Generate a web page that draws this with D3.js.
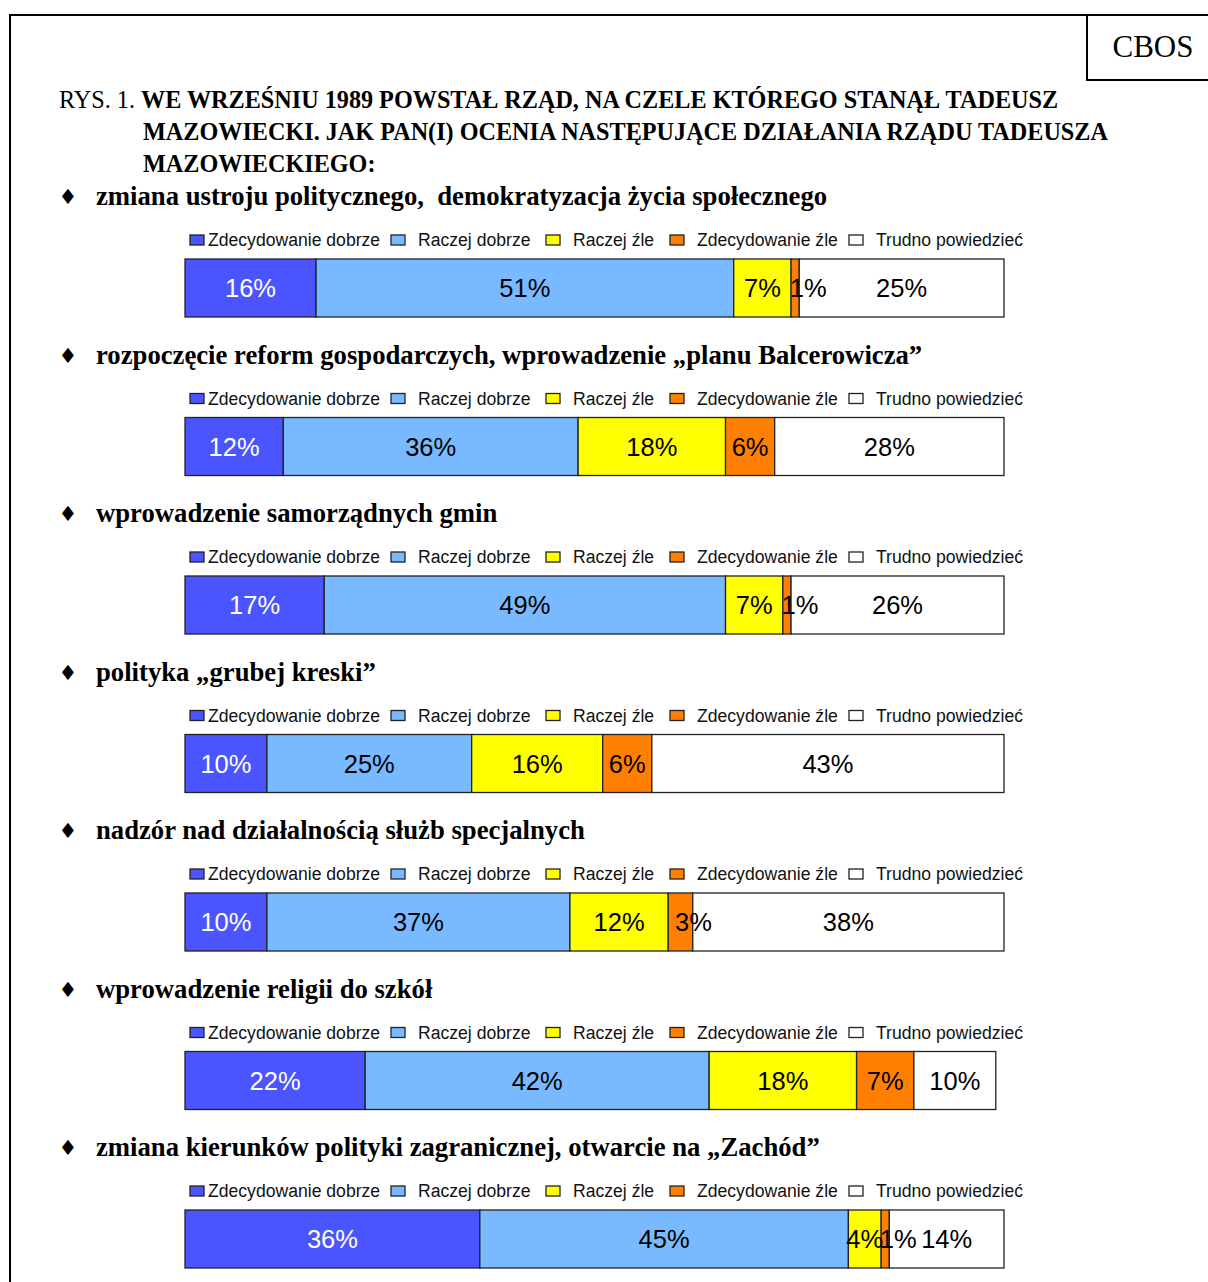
<!DOCTYPE html>
<html>
<head>
<meta charset="utf-8">
<script src="https://cdn.jsdelivr.net/npm/d3@7/dist/d3.min.js"></script>
<style>
  body { margin: 0; background: #fff; }
  text { white-space: pre; }
</style>
</head>
<body>
<script>
const WIDTH = 1208;
const HEIGHT = 1282;

// title lines
const TITLE_PREFIX = "RYS. 1. ";
const TITLE_LINES = ["WE WRZEŚNIU 1989 POWSTAŁ RZĄD, NA CZELE KTÓREGO STANĄŁ TADEUSZ",
                     "MAZOWIECKI. JAK PAN(I) OCENIA NASTĘPUJĄCE DZIAŁANIA RZĄDU TADEUSZA",
                     "MAZOWIECKIEGO:"];

// questions
const ITEMS = ["zmiana ustroju politycznego,  demokratyzacja życia społecznego",
               "rozpoczęcie reform gospodarczych, wprowadzenie „planu Balcerowicza”",
               "wprowadzenie samorządnych gmin",
               "polityka „grubej kreski”",
               "nadzór nad działalnością służb specjalnych",
               "wprowadzenie religii do szkół",
               "zmiana kierunków polityki zagranicznej, otwarcie na „Zachód”"];

// answer categories
const CATEGORIES = ["Zdecydowanie dobrze", "Raczej dobrze", "Raczej źle", "Zdecydowanie źle", "Trudno powiedzieć"];
const COLORS = ["#4a55ff", "#78b9ff", "#ffff00", "#ff8000", "#ffffff"];

// series values (%)
const ZDEC_DOBRZE   = [16, 12, 17, 10, 10, 22, 36];
const RACZEJ_DOBRZE = [51, 36, 49, 25, 37, 42, 45];
const RACZEJ_ZLE    = [7, 18, 7, 16, 12, 18, 4];
const ZDEC_ZLE      = [1, 6, 1, 6, 3, 7, 1];
const TRUDNO        = [25, 28, 26, 43, 38, 10, 14];

const SERIES = [ZDEC_DOBRZE, RACZEJ_DOBRZE, RACZEJ_ZLE, ZDEC_ZLE, TRUDNO];

const table = ITEMS.map((item, i) => {
  const row = {item: item};
  CATEGORIES.forEach((c, j) => row[c] = SERIES[j][i]);
  return row;
});

const svg = d3.select("body")
              .append("svg")
              .attr("width", WIDTH)
              .attr("height", HEIGHT);

// frame + CBOS box
svg.append("path")
   .attr("d", "M10," + HEIGHT + " V15 H" + (WIDTH + 5))
   .attr("fill", "none")
   .attr("stroke", "#000")
   .attr("stroke-width", 2);

svg.append("path")
   .attr("d", "M1087,15 V80 H" + (WIDTH + 5))
   .attr("fill", "none")
   .attr("stroke", "#000")
   .attr("stroke-width", 2);

svg.append("text")
   .attr("x", 1153)
   .attr("y", 57)
   .attr("text-anchor", "middle")
   .attr("font-family", "Liberation Serif, Times New Roman, serif")
   .attr("font-size", 31)
   .text("CBOS");

// title
const title = svg.append("g")
                 .attr("font-family", "Liberation Serif, Times New Roman, serif")
                 .attr("font-size", 24.2);

const firstLine = title.append("text")
                       .attr("x", 59)
                       .attr("y", 108);
firstLine.append("tspan").text(TITLE_PREFIX);
firstLine.append("tspan").attr("font-weight", "bold").text(TITLE_LINES[0]);

TITLE_LINES.slice(1).forEach((line, i) => {
  title.append("text")
       .attr("x", 143)
       .attr("y", 108 + (i + 1) * 32)
       .attr("font-weight", "bold")
       .text(line);
});

// scales
const xScale = d3.scaleLinear()
                 .domain([0, 100])
                 .range([185, 1004]);

const yScale = d3.scalePoint()
                 .domain(ITEMS)
                 .range([259, 1210]);

const colorScale = d3.scaleOrdinal()
                     .domain(CATEGORIES)
                     .range(COLORS);

const BAR_HEIGHT = 58;
const LEGEND_X = [190, 391, 546, 670, 849];

const stack = d3.stack().keys(CATEGORIES)(table);

const rows = svg.selectAll(".row")
                .data(ITEMS)
                .enter()
                .append("g")
                .attr("class", "row")
                .attr("transform", d => "translate(0," + yScale(d) + ")");

// bullet + heading
rows.append("text")
    .attr("x", 68)
    .attr("y", -55)
    .attr("text-anchor", "middle")
    .attr("font-family", "DejaVu Sans, sans-serif")
    .attr("font-size", 21)
    .text("♦");

rows.append("text")
    .attr("x", 96)
    .attr("y", -54)
    .attr("font-family", "Liberation Serif, Times New Roman, serif")
    .attr("font-weight", "bold")
    .attr("font-size", 26.7)
    .text(d => d);

// legend
const legend = rows.selectAll(".legend")
                   .data(CATEGORIES)
                   .enter()
                   .append("g")
                   .attr("class", "legend")
                   .attr("transform", (d, i) => "translate(" + LEGEND_X[i] + ", -24)");

legend.append("rect")
      .attr("width", 14)
      .attr("height", 10)
      .attr("fill", d => colorScale(d))
      .attr("stroke", "#222")
      .attr("stroke-width", 1.3);

legend.append("text")
      .attr("x", (d, i) => i === 0 ? 18 : 27)
      .attr("y", 11)
      .attr("font-family", "Liberation Sans, Arial, sans-serif")
      .attr("font-size", 17.6)
      .attr("fill", "#111")
      .text(d => d);

// bars
stack.forEach(layer => {
  const cat = layer.key;
  rows.each(function(item, i) {
    const seg = layer[i];
    const x0 = xScale(seg[0]);
    d3.select(this).append("rect")
      .attr("x", x0)
      .attr("y", 0)
      .attr("width", xScale(seg[1]) - x0)
      .attr("height", BAR_HEIGHT)
      .attr("fill", colorScale(cat))
      .attr("stroke", "#222")
      .attr("stroke-width", 1.3);
  });
});

stack.forEach((layer, li) => {
  rows.each(function(item, i) {
    const seg = layer[i];
    const x0 = xScale(seg[0]);
    const w = xScale(seg[1]) - x0;
    const label = d3.select(this).append("text")
                    .attr("x", x0 + w / 2)
                    .attr("y", BAR_HEIGHT / 2 + 9)
                    .attr("text-anchor", "middle")
                    .attr("font-family", "Liberation Sans, Arial, sans-serif")
                    .attr("font-size", 25.5)
                    .attr("fill", li === 0 ? "#fff" : "#000")
                    .text(SERIES[li][i] + "%");
    // Excel nudges labels that clearly do not fit into their segment
    if (label.node().getComputedTextLength() > w + 9) {
      label.attr("dx", 13);
    }
  });
});
</script>
</body>
</html>
